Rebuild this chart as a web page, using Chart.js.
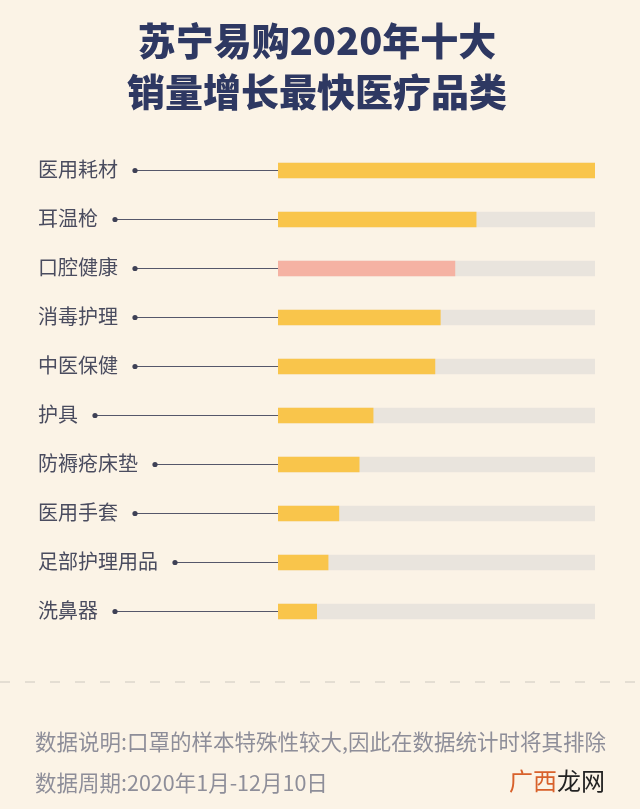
<!DOCTYPE html>
<html>
<head>
<meta charset="utf-8">
<script src="https://cdn.jsdelivr.net/npm/chart.js@4.4.0/dist/chart.umd.min.js"></script>
<style>
  html, body { margin: 0; padding: 0; background: #fbf3e6; }
  canvas { display: block; }
</style>
</head>
<body>
<canvas id="barchart" width="640" height="809"></canvas>
<script>
// categories and growth values (longest bar = 100)
var categories = ['医用耗材', '耳温枪', '口腔健康', '消毒护理', '中医保健', '护具', '防褥疮床垫', '医用手套', '足部护理用品', '洗鼻器'];
var values = [100, 62.5, 55.8, 51.2, 49.5, 30.0, 25.6, 19.2, 15.8, 12.2];
var trackValues = [100, 100, 100, 100, 100, 100, 100, 100, 100, 100];
var barColors = ['#f9c54b', '#f9c54b', '#f5b2a3', '#f9c54b', '#f9c54b', '#f9c54b', '#f9c54b', '#f9c54b', '#f9c54b', '#f9c54b'];

var titleLines = ['苏宁易购2020年十大', '销量增长最快医疗品类'];
var noteLines = ['数据说明:口罩的样本特殊性较大,因此在数据统计时将其排除', '数据周期:2020年1月-12月10日'];

var cjk = '"Noto Sans CJK SC", "Noto Sans", sans-serif';

var decor = {
  id: 'decor',
  beforeDraw: function(chart) {
    var ctx = chart.ctx;
    ctx.save();
    ctx.fillStyle = '#fbf3e6';
    ctx.fillRect(0, 0, chart.width, chart.height);
    ctx.restore();
  },
  afterDraw: function(chart) {
    var ctx = chart.ctx;
    var yScale = chart.scales.y;
    var left = chart.chartArea.left;
    ctx.save();

    // title
    ctx.fillStyle = '#2e3862';
    ctx.font = '900 38px ' + cjk;
    ctx.textAlign = 'center';
    ctx.textBaseline = 'middle';
    ctx.fillText(titleLines[0], 317, 41);
    ctx.fillText(titleLines[1], 317, 92);

    // category labels with leader lines
    ctx.font = '400 20px ' + cjk;
    ctx.textAlign = 'left';
    categories.forEach(function(c, i) {
      var y = yScale.getPixelForValue(i);
      ctx.fillStyle = '#4a4c5f';
      ctx.fillText(c, 38, y - 1);
      var dx = 38 + ctx.measureText(c).width + 17;
      ctx.strokeStyle = '#55576a';
      ctx.lineWidth = 1.2;
      ctx.beginPath();
      ctx.moveTo(dx, y);
      ctx.lineTo(left, y);
      ctx.stroke();
      ctx.beginPath();
      ctx.arc(dx, y, 2.6, 0, Math.PI * 2);
      ctx.fillStyle = '#3e4055';
      ctx.fill();
    });

    // dashed separator
    ctx.strokeStyle = '#cdc8bf';
    ctx.lineWidth = 1;
    ctx.setLineDash([10, 15]);
    ctx.beginPath();
    ctx.moveTo(0, 682);
    ctx.lineTo(640, 682);
    ctx.stroke();
    ctx.setLineDash([]);

    // notes
    ctx.fillStyle = '#8e8e99';
    ctx.font = '400 21.5px ' + cjk;
    ctx.fillText(noteLines[0], 35, 742);
    ctx.fillText(noteLines[1], 35, 783);

    // watermark
    ctx.font = '400 24px ' + cjk;
    ctx.textAlign = 'right';
    ctx.fillStyle = '#222222';
    ctx.fillText('龙网', 605, 781);
    var w = ctx.measureText('龙网').width;
    ctx.fillStyle = '#d8612b';
    ctx.fillText('广西', 605 - w, 781);

    ctx.restore();
  }
};

new Chart(document.getElementById('barchart'), {
  type: 'bar',
  data: {
    labels: categories,
    datasets: [{
      data: values,
      backgroundColor: barColors,
      borderWidth: 0,
      barThickness: 15,
      grouped: false,
      order: 1
    }, {
      data: trackValues,
      backgroundColor: '#e9e4dd',
      borderWidth: 0,
      barThickness: 15,
      grouped: false,
      order: 2
    }]
  },
  options: {
    indexAxis: 'y',
    responsive: false,
    animation: false,
    layout: {
      padding: { left: 278, right: 45, top: 146, bottom: 173 }
    },
    scales: {
      x: { display: false, min: 0, max: 100 },
      y: { display: false }
    },
    plugins: {
      legend: { display: false },
      tooltip: { enabled: false }
    }
  },
  plugins: [decor]
});
</script>
</body>
</html>
